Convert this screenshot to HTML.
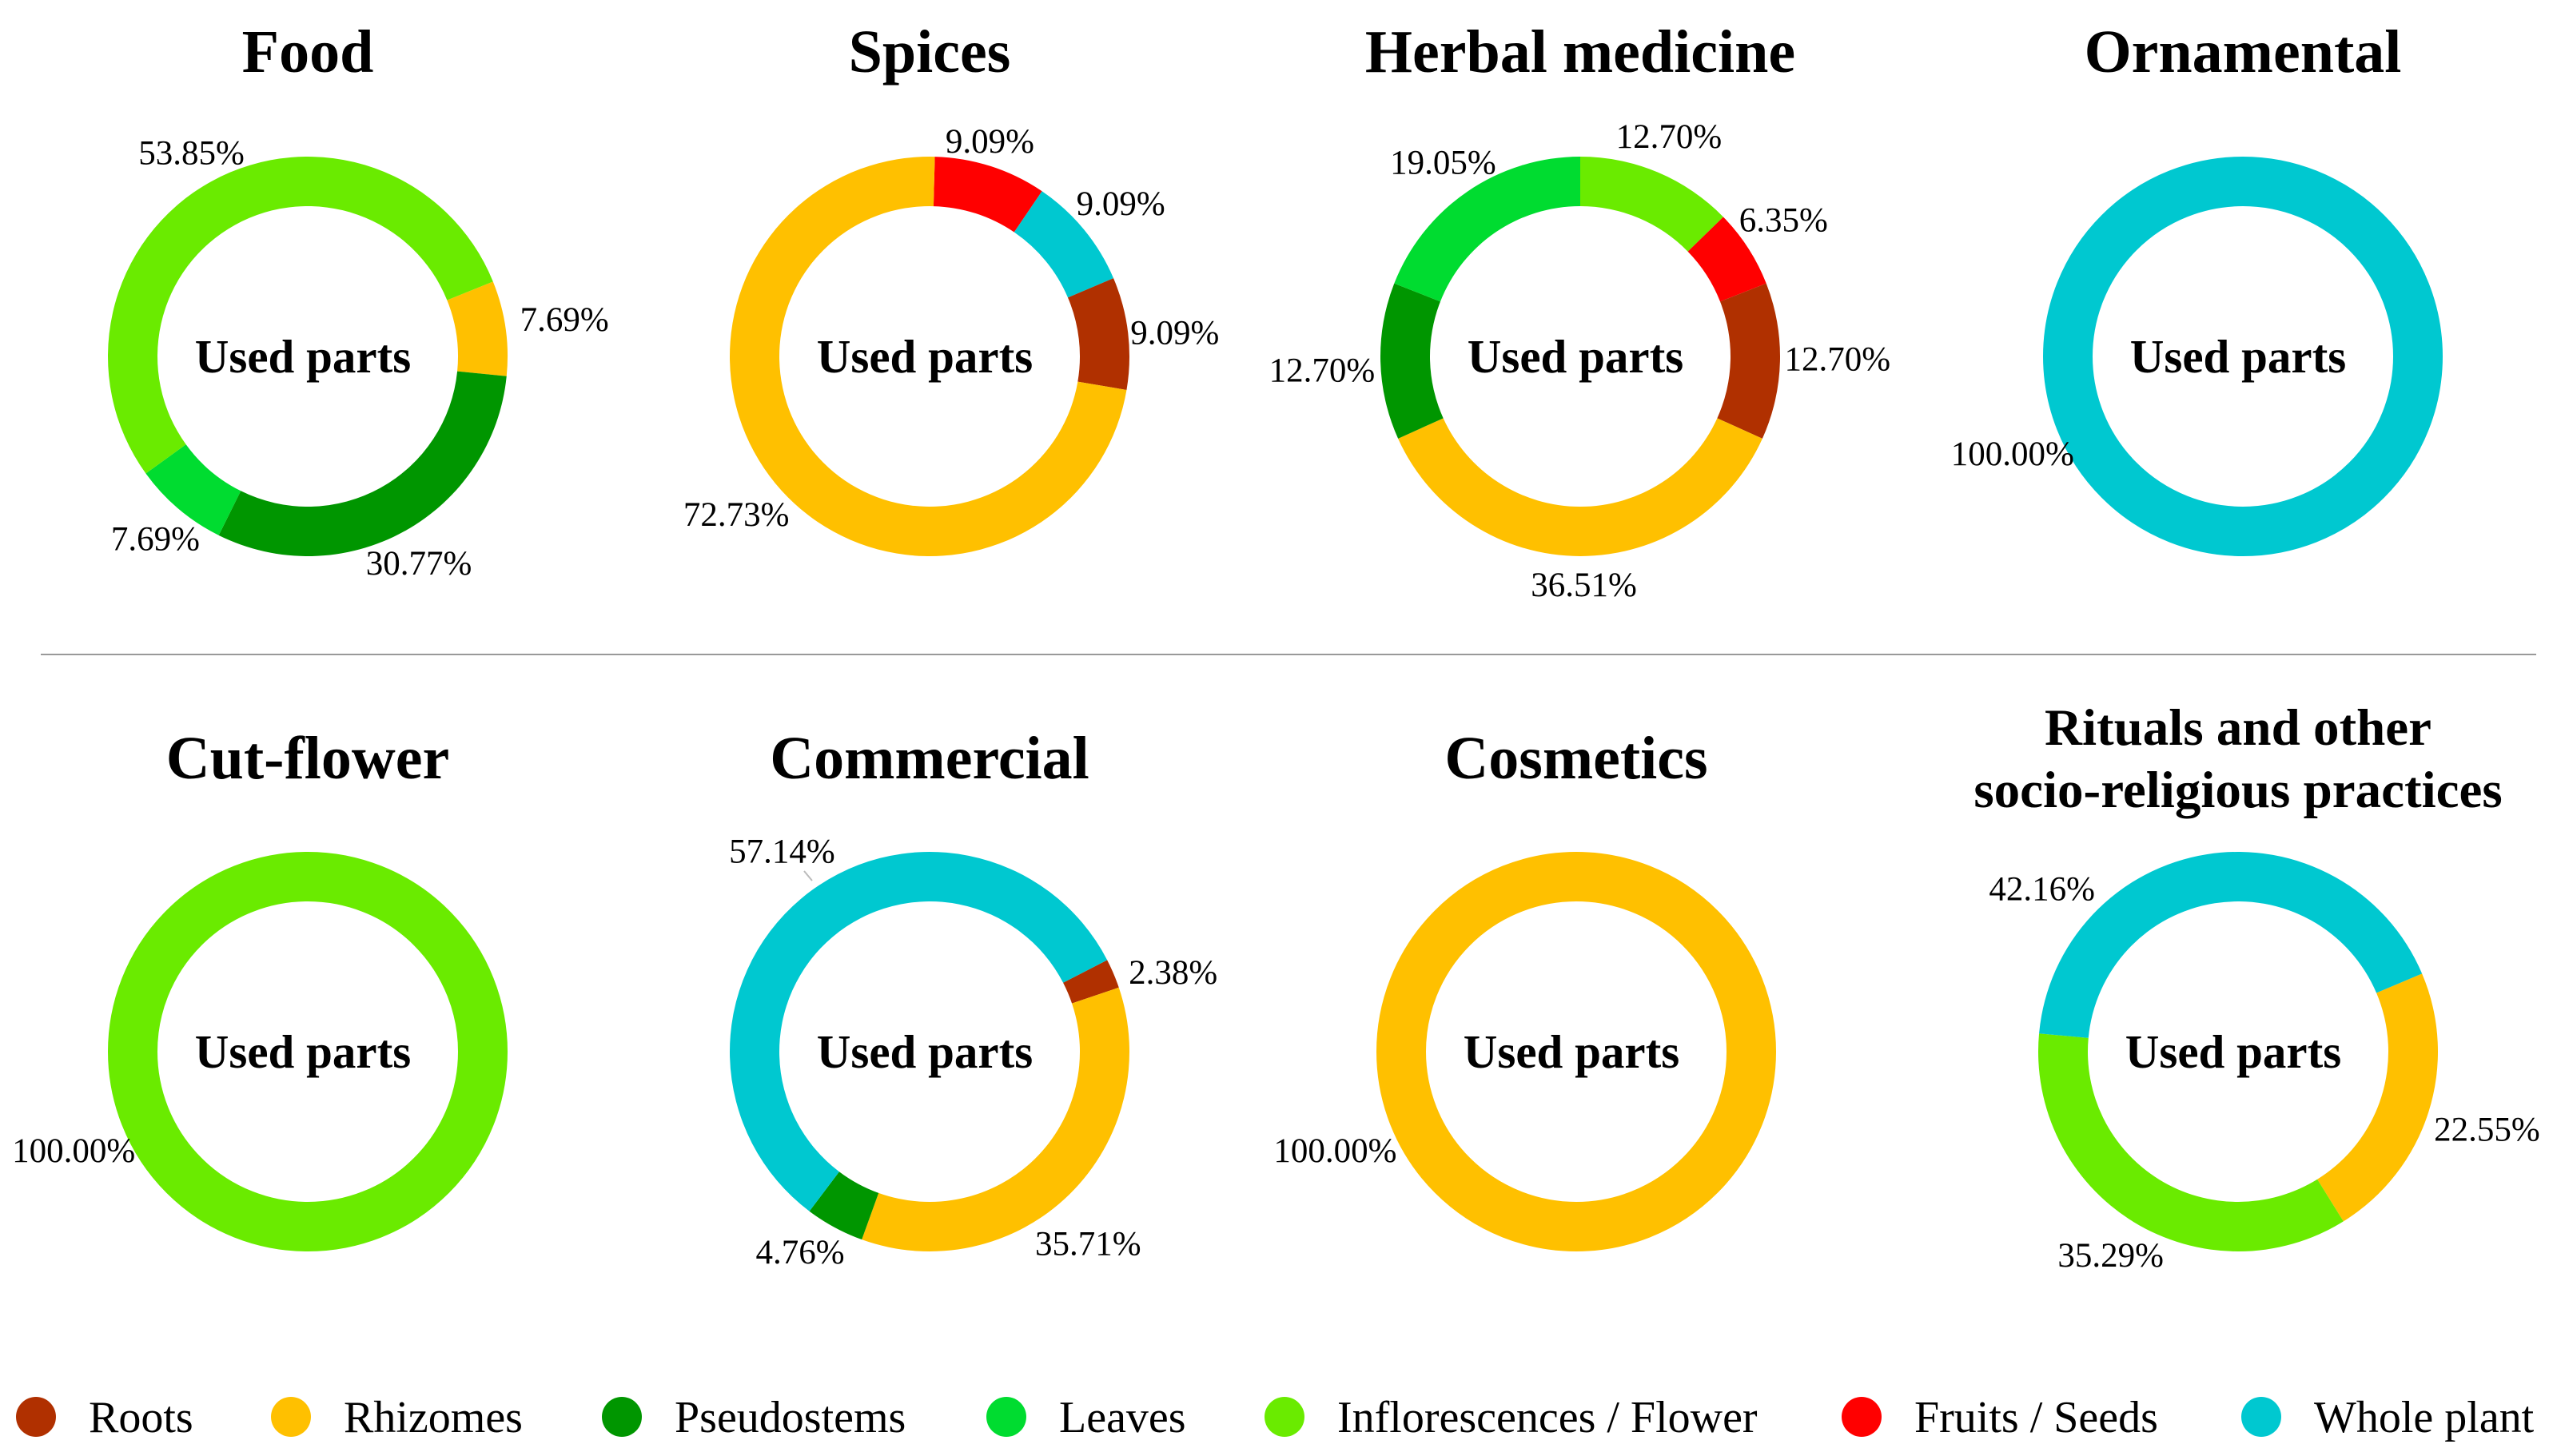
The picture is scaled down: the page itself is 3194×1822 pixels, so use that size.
<!DOCTYPE html>
<html><head><meta charset="utf-8"><style>
body{margin:0;background:#fff}
svg{display:block}
text{font-family:"Liberation Serif",serif;fill:#000}
</style></head><body>
<svg id="chart" width="3194" height="1822" viewBox="0 0 3194 1822">
<line x1="51" y1="819" x2="3173" y2="819" stroke="#999" stroke-width="2"/>
<line x1="1006" y1="1090" x2="1016" y2="1102" stroke="#bbb" stroke-width="2"/>
</svg>
<script>
const categories = ["Roots","Rhizomes","Pseudostems","Leaves","Inflorescences / Flower","Fruits / Seeds","Whole plant"];
const colors = ["#b03000","#ffc000","#009600","#00dc30","#6aeb00","#ff0000","#00c8d0"];
const chartTitles = [["Food"],["Spices"],["Herbal medicine"],["Ornamental"],["Cut-flower"],["Commercial"],["Cosmetics"],["Rituals and other","socio-religious practices"]];
// slices in clockwise drawing order: category index and percent
const foodCats = [1,2,3,4], foodVals = [7.69,30.77,7.69,53.85];
const spicesCats = [5,6,0,1], spicesVals = [9.09,9.09,9.09,72.73];
const herbalCats = [4,5,0,1,2,3], herbalVals = [12.70,6.35,12.70,36.51,12.70,19.05];
const ornCats = [6], ornVals = [100.00];
const cutCats = [4], cutVals = [100.00];
const commCats = [0,1,2,6], commVals = [2.38,35.71,4.76,57.14];
const cosmCats = [1], cosmVals = [100.00];
const ritCats = [1,4,6], ritVals = [22.55,35.29,42.16];
const startAngles = [68,1.5,0,67,67,62.7,67,67];
const allCats = [foodCats,spicesCats,herbalCats,ornCats,cutCats,commCats,cosmCats,ritCats];
const allVals = [foodVals,spicesVals,herbalVals,ornVals,cutVals,commVals,cosmVals,ritVals];
// label layout (reference-measured, display units x2.047), per slice
const labelPos = [
 [[345,195],[256,344],[95,329],[117,93]],
 [[605,86],[685,124],[718,203],[450,314]],
 [[1020,83],[1090,134],[1123,219],[968,357],[808,226],[882,99]],
 [[1230,277]],
 [[45,703]],
 [[717,594],[665,760],[489,765],[478,520]],
 [[816,703]],
 [[1520,690],[1290,767],[1248,543]]
];
const S = 2.047;
const svg = document.getElementById('chart');
const NS = 'http://www.w3.org/2000/svg';
const cxs = [385,1163,1977,2806,385,1163,1972,2800];
const cys = [446,446,446,446,1316,1316,1316,1316];
const R = 250, r = 188;
function pt(cx,cy,rad,deg){const a=deg*Math.PI/180;return [cx+rad*Math.sin(a),cy-rad*Math.cos(a)];}
function mk(tag,attrs){const e=document.createElementNS(NS,tag);for(const k in attrs)e.setAttribute(k,attrs[k]);svg.appendChild(e);return e;}

for(let c=0;c<8;c++){
  const cx=cxs[c], cy=cys[c];
  const t=chartTitles[c];
  if(t.length===1){
    const e=mk('text',{x:cx,y:c<4?90:974,'text-anchor':'middle','font-size':76,'font-weight':'bold'});
    e.textContent=t[0];
    
    
  } else {
    t.forEach((line,i)=>{
      const e=mk('text',{x:cx,y:932+i*78,'text-anchor':'middle','font-size':65,'font-weight':'bold'});
      e.textContent=line;
      
      
    });
  }
  const cats=allCats[c], vals=allVals[c];
  const total=vals.reduce((a,b)=>a+b,0);
  let ang=startAngles[c];
  for(let i=0;i<vals.length;i++){
    const sweep=vals[i]/total*360;
    let el;
    if(sweep>=359.99){
      el=mk('circle',{cx:cx,cy:cy,r:(R+r)/2,fill:'none',stroke:colors[cats[i]],'stroke-width':R-r});
    } else {
      const a0=ang,a1=ang+sweep,large=sweep>180?1:0;
      const p1=pt(cx,cy,R,a0),p2=pt(cx,cy,R,a1),p3=pt(cx,cy,r,a1),p4=pt(cx,cy,r,a0);
      el=mk('path',{d:`M${p1[0]},${p1[1]}A${R},${R} 0 ${large} 1 ${p2[0]},${p2[1]}L${p3[0]},${p3[1]}A${r},${r} 0 ${large} 0 ${p4[0]},${p4[1]}Z`,fill:colors[cats[i]]});
    }
    
    
    const lp=labelPos[c][i];
    const lt=mk('text',{x:lp[0]*S,y:lp[1]*S+15,'text-anchor':'middle','font-size':43});
    lt.textContent=vals[i].toFixed(2)+'%';
    
    
    ang+=sweep;
  }
  const ct=mk('text',{x:cx-6,y:cy+20,'text-anchor':'middle','font-size':59,'font-weight':'bold'});
  ct.textContent='Used parts';
  
  
}
const legX=[45,364,778,1259,1607,2329,2829];
for(let i=0;i<categories.length;i++){
  const d=mk('circle',{cx:legX[i],cy:1773,r:25,fill:colors[i]});
  
  
  const lt=mk('text',{x:legX[i]+66,y:1792,'font-size':56});
  lt.textContent=categories[i];
  
  
}
</script>
</body></html>
